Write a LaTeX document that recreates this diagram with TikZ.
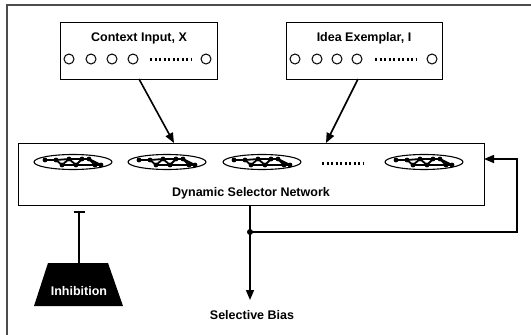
\documentclass[tikz,border=0pt]{standalone}
\usepackage{fontspec}
\setmainfont{Liberation Sans}
\usetikzlibrary{arrows.meta,shapes.geometric}
\tikzset{
  lbl/.style={font=\bfseries\fontsize{12.5}{14}\selectfont, inner sep=0pt},
  box/.style={draw, line width=1.2pt, fill=white},
  unit/.style={draw, circle, minimum size=10pt, inner sep=0pt, line width=1pt},
  conn/.style={line width=1.6pt, -{Triangle[length=10pt,width=8pt]}},
  lnk/.style={line width=1.6pt},
  ell/.style={draw, ellipse, line width=1.1pt, minimum width=78pt, minimum height=15pt, inner sep=0pt},
  dotsrow/.style={line width=3pt, dash pattern=on 2pt off 2.5pt},
}
\newcommand{\minigraph}[1]{%
  \begin{scope}[shift={(#1)}, line width=1.8pt]
    \draw (-28,-2) -- (-17,-2) -- (-11,3) -- (-4,-3) -- (3,3) -- (9,-3) -- (16,-3) -- (22,3) -- (28,3);
    \draw (-17,-2) -- (-4,-3) -- (9,-3);
    \draw (-11,3) -- (3,3) -- (22,3);
    \draw (16,-3) -- (28,3);
    \foreach \p in {(-28,-2),(-17,-2),(-11,3),(-4,-3),(3,3),(9,-3),(16,-3),(22,3),(28,3)}
      \fill \p circle (2.4);
  \end{scope}}
\begin{document}
\begin{tikzpicture}[x=1pt,y=-1pt]
\useasboundingbox (0,0) rectangle (531,335);
% outer frame
\draw[line width=1.8pt, color=black!70] (7,335) -- (7,5) -- (531,5);

% input boxes
\node[box, minimum width=157pt, minimum height=57pt, anchor=north west] (ctx) at (60,22) {};
\node[lbl] (ctxt) at (139,38) {Context Input, X};
\foreach \x [count=\i] in {69,91,112,133,206}
  \node[unit] (c\i) at (\x,59) {};
\draw[dotsrow] (150,59) -- (191,59);

\node[box, minimum width=156pt, minimum height=57pt, anchor=north west] (idea) at (286,22) {};
\node[lbl] (ideat) at (364,38) {Idea Exemplar, I};
\foreach \x [count=\i] in {295,317,337,357,432}
  \node[unit] (d\i) at (\x,59) {};
\draw[dotsrow] (375,59) -- (416,59);

% network box
\node[box, minimum width=466pt, minimum height=62pt, anchor=north west] (net) at (18,143) {};
\foreach \x [count=\i] in {73,167,262,424}
  \node[ell] (e\i) at (\x,162) {};
\foreach \x in {73,167,262,424} { \minigraph{\x,162} }
\draw[dotsrow] (322,163) -- (363,163);
\node[lbl] (nett) at (251,193) {Dynamic Selector Network};

% inputs to network
\coordinate (ctxout) at (139,79);
\coordinate (ctxin) at (174,143);
\coordinate (ideaout) at (358,79);
\coordinate (ideain) at (326,143);
\draw[conn] (ctxout) -- (ctxin);
\draw[conn] (ideaout) -- (ideain);

% output and feedback
\coordinate (netout) at (250,205);
\coordinate (split) at (250,232);
\coordinate (biasin) at (250,300);
\coordinate (fbr) at (517,232);
\coordinate (fbt) at (517,159);
\coordinate (fbin) at (484,159);
\node[lbl] (bias) at (252,315) {Selective Bias};
\draw[conn] (netout) -- (split) -- (biasin);
\draw[conn] (split) -- (fbr) -- (fbt) -- (fbin);
\fill (split) circle (3);

% inhibition
\fill (48,263) -- (108,263) -- (123,306) -- (34,306) -- cycle;
\coordinate (inhtop) at (79,263);
\node[lbl, text=white] (inh) at (79,291) {Inhibition};
\coordinate (inhend) at (79,212);
\draw[lnk] (inhtop) -- (inhend);
\draw[lnk] (73.5,212) -- (84.5,212);
\end{tikzpicture}
\end{document}
